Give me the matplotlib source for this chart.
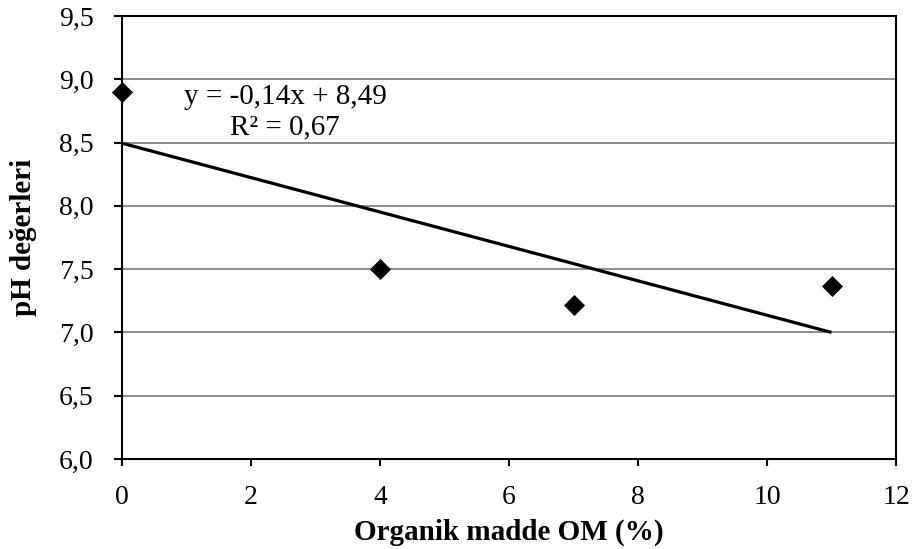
import numpy as np
import matplotlib.pyplot as plt

# data
om = [0, 4, 7, 11]
ph = [8.9, 7.5, 7.22, 7.37]
xticks = [0, 2, 4, 6, 8, 10, 12]
yticks = [6.0, 6.5, 7.0, 7.5, 8.0, 8.5, 9.0, 9.5]

plt.rcParams['font.family'] = ['Liberation Serif', 'DejaVu Serif']

W, H = 917, 549
fig = plt.figure(figsize=(W/100, H/100), dpi=100)
ax = fig.add_axes([122/W, 1-459/H, (896-122)/W, (459-16)/H])

# linear trend line
k, b = np.polyfit(om, ph, 1)
xs = np.array([min(om), max(om)])
ax.plot(xs, k*xs + b, color='black', lw=2.3, zorder=3, solid_capstyle='butt')

ax.scatter(om, ph, marker='D', s=115, color='black', zorder=4, clip_on=False,
           linewidths=0)

ax.set_xlim(0, 12)
ax.set_ylim(6.0, 9.5)
ax.set_xticks(xticks)
ax.set_yticks(yticks)
ax.set_yticklabels([f"{v:.1f}".replace('.', ',') for v in yticks])
ax.yaxis.grid(True, color='#8c8c8c', lw=1.4)
ax.set_axisbelow(True)
for s in ax.spines.values():
    s.set_color('black')
    s.set_linewidth(1.5)
ax.tick_params(axis='x', direction='out', length=5, width=1.5, colors='black',
               labelsize=20, pad=14)
ax.tick_params(axis='y', direction='out', length=6, width=1.5, colors='black',
               labelsize=20, pad=14.5)

ax.set_xlabel('Organik madde OM (%)', fontweight='bold', fontsize=21, labelpad=6)
ax.set_ylabel('pH değerleri', fontweight='bold', fontsize=21, labelpad=16)

ax.text(285/W, 1-97/H, 'y = -0,14x + 8,49', transform=fig.transFigure,
        fontsize=21, va='center', ha='center')
ax.text(285/W, 1-127/H, 'R² = 0,67', transform=fig.transFigure,
        fontsize=21, va='center', ha='center')

fig.savefig('out.png', dpi=100)
